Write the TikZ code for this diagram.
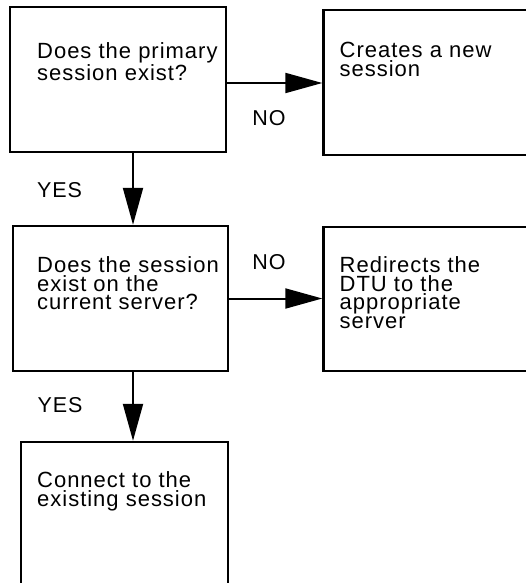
\documentclass[tikz,border=0pt]{standalone}
\usepackage{fontspec}
\setmainfont{Liberation Sans}[LetterSpace=4.5]
\usetikzlibrary{positioning, arrows.meta}

\tikzset{
	box/.style={draw, line width=2.4pt, minimum width=216pt, minimum height=145pt, inner sep=0pt},
	txt/.style={align=left, inner sep=0pt, font=\fontsize{22}{18.5}\selectfont},
	lbl/.style={inner sep=0pt, font=\fontsize{21.5}{21.5}\selectfont},
	flow/.style={line width=2pt, -{Triangle[length=37pt, width=20pt]}},
}

\begin{document}
\begin{tikzpicture}[x=1pt, y=1pt]
		\clip (0,0) rectangle (526,-583);

		% Boxes
		\node[box] (primary) at (118,-79.5) {};
		\node[box] (newsess) at (431.5,-82.5) {}; % cut at the right
		\node[box, minimum width=215pt] (current) at (120.5,-298.5) {};
		\node[box, minimum height=144pt] (redirect) at (431.5,-299) {};
		\node[box, minimum width=207pt] (connect) at (124.5,-514.5) {}; % cut at the bottom

		% Texts
		\node[txt, below right=36.6pt and 28.2pt of primary.north west] (primarytxt) {Does the primary\\session exist?};
		\node[txt, below right=33.6pt and 17.2pt of newsess.north west] (newsesstxt) {Creates a new\\session};
		\node[txt, below right=31.6pt and 25.2pt of current.north west] (currenttxt) {Does the session\\exist on the\\current server?};
		\node[txt, below right=30.6pt and 17.2pt of redirect.north west] (redirecttxt) {Redirects the\\DTU to the\\appropriate\\server};
		\node[txt, below right=30.6pt and 17.2pt of connect.north west] (connecttxt) {Connect to the\\existing session};

		% Arrows
		\draw[flow] ([yshift=-3.5pt]primary.east) -- ([yshift=-3.5pt]primary.east -| newsess.west);
		\draw[flow] ([xshift=15pt]primary.south) -- ([xshift=15pt]primary.south |- current.north);
		\draw[flow] (current.east) -- (current.east -| redirect.west);
		\draw[flow] ([xshift=12.5pt]current.south) -- ([xshift=12.5pt]current.south |- connect.north);

		% Labels
		\node[lbl] (no1) at (269,-118) {NO};
		\node[lbl] (yes1) at (59.5,-190) {YES};
		\node[lbl] (no2) at (269,-262) {NO};
		\node[lbl] (yes2) at (60,-405) {YES};
	\end{tikzpicture}
\end{document}
